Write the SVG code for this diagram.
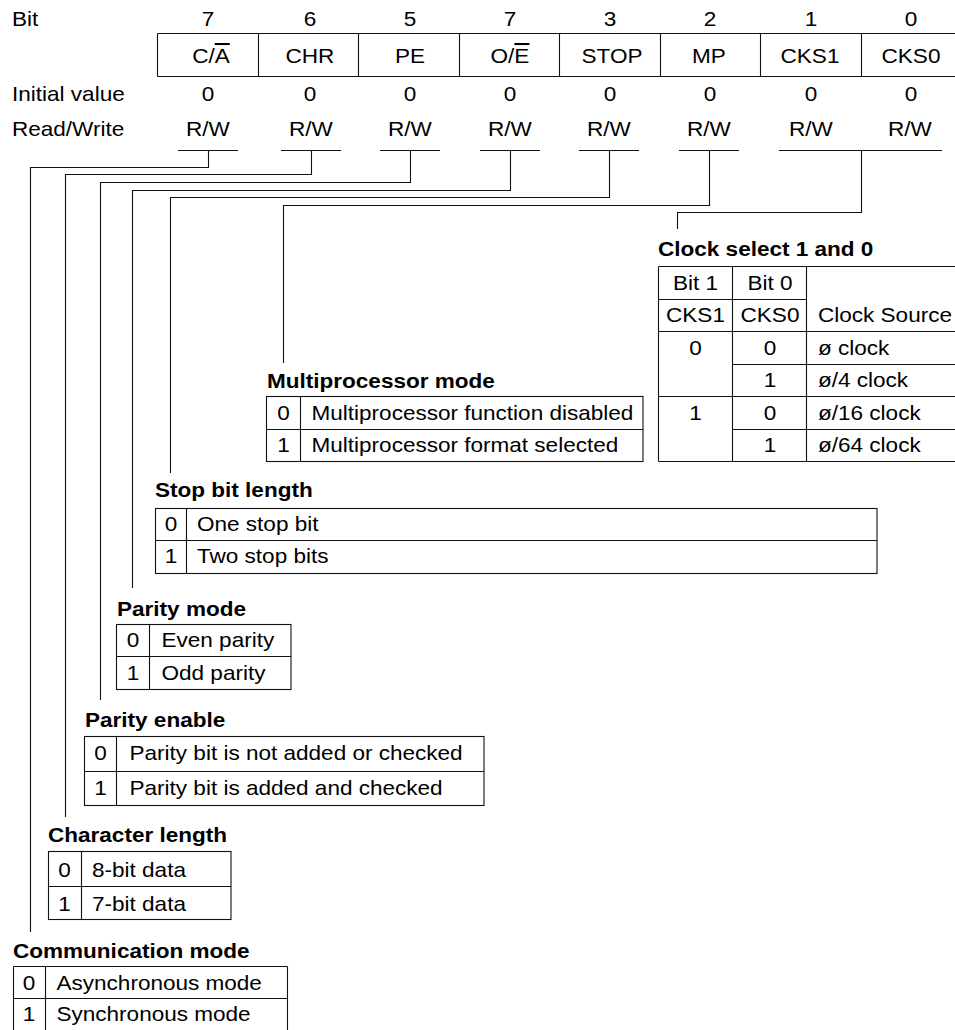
<svg xmlns="http://www.w3.org/2000/svg" width="955" height="1030" viewBox="0 0 955 1030">
<style>
text { font-family: "Liberation Sans", Arial, Helvetica, sans-serif; font-size: 20.5px; fill: #000; transform-box: fill-box; transform: scaleX(1.1); }
.l { transform-origin: 0% 50%; }
.c { text-anchor: middle; transform-origin: 50% 50%; }
.t { font-weight: bold; }
.ln { stroke: #111; stroke-width: 1.1; fill: none; }
.ov { text-decoration: overline; }
</style>
<rect width="955" height="1030" fill="#fff"/>

<g id="register">
  <text class="l" x="12" y="26">Bit</text>
  <text class="c" x="208" y="26">7</text>
  <text class="c" x="310" y="26">6</text>
  <text class="c" x="410" y="26">5</text>
  <text class="c" x="510" y="26">7</text>
  <text class="c" x="610" y="26">3</text>
  <text class="c" x="710" y="26">2</text>
  <text class="c" x="811" y="26">1</text>
  <text class="c" x="911" y="26">0</text>
  <path class="ln" d="M157.5,33.5 H970 M157.5,76.5 H970 M157.5,33.5 V76.5 M258.5,33.5 V76.5 M358.5,33.5 V76.5 M459.5,33.5 V76.5 M559.5,33.5 V76.5 M660.5,33.5 V76.5 M760.5,33.5 V76.5 M861.5,33.5 V76.5"/>
  <text class="c" x="211" y="63">C/<tspan class="ov">A</tspan></text>
  <text class="c" x="310" y="63">CHR</text>
  <text class="c" x="410" y="63">PE</text>
  <text class="c" x="510" y="63">O/<tspan class="ov">E</tspan></text>
  <text class="c" x="612" y="63">STOP</text>
  <text class="c" x="709" y="63">MP</text>
  <text class="c" x="810" y="63">CKS1</text>
  <text class="c" x="911" y="63">CKS0</text>
  <text class="l" x="12" y="101.5">Initial value</text>
  <text class="c" x="208" y="101.5">0</text>
  <text class="c" x="310" y="101.5">0</text>
  <text class="c" x="410" y="101.5">0</text>
  <text class="c" x="510" y="101.5">0</text>
  <text class="c" x="610" y="101.5">0</text>
  <text class="c" x="710" y="101.5">0</text>
  <text class="c" x="811" y="101.5">0</text>
  <text class="c" x="911" y="101.5">0</text>
  <text class="l" x="12" y="136.5">Read/Write</text>
  <text class="c" x="208" y="136.5">R/W</text>
  <text class="c" x="311" y="136.5">R/W</text>
  <text class="c" x="410" y="136.5">R/W</text>
  <text class="c" x="510" y="136.5">R/W</text>
  <text class="c" x="609" y="136.5">R/W</text>
  <text class="c" x="709" y="136.5">R/W</text>
  <text class="c" x="811" y="136.5">R/W</text>
  <text class="c" x="910" y="136.5">R/W</text>
</g>

<g id="connectors" class="ln">
  <path d="M178,150.5 H238 M208.5,150.5 V167.5 H30.5 V932"/>
  <path d="M281,150.5 H341 M311.5,150.5 V174.5 H65.5 V817"/>
  <path d="M380,150.5 H440 M410.5,150.5 V182.5 H100.5 V700"/>
  <path d="M480,150.5 H540 M510.5,150.5 V190.5 H132.5 V588"/>
  <path d="M579,150.5 H639 M609.5,150.5 V197.5 H170.5 V473"/>
  <path d="M679,150.5 H739 M709.5,150.5 V205.5 H283.5 V363"/>
  <path d="M779,150.5 H942 M861.5,150.5 V212.5 H677.5 V229"/>
</g>

<g id="clock-select">
  <text class="l t" x="658" y="256">Clock select 1 and 0</text>
  <path class="ln" d="M658.5,266.5 H970 M658.5,461.5 H970 M658.5,266.5 V461.5 M732.5,266.5 V461.5 M806.5,266.5 V461.5 M658.5,299.5 H806.5 M658.5,331.5 H970 M732.5,364.5 H970 M658.5,396.5 H970 M732.5,429.5 H970"/>
  <text class="c" x="695.5" y="290">Bit 1</text>
  <text class="c" x="770" y="290">Bit 0</text>
  <text class="c" x="695.5" y="322.5">CKS1</text>
  <text class="c" x="770" y="322.5">CKS0</text>
  <text class="l" x="818" y="322.5">Clock Source</text>
  <text class="c" x="695.5" y="355">0</text>
  <text class="c" x="770" y="355">0</text>
  <text class="l" x="818" y="355">ø clock</text>
  <text class="c" x="770" y="387.5">1</text>
  <text class="l" x="818" y="387.5">ø/4 clock</text>
  <text class="c" x="695.5" y="420">1</text>
  <text class="c" x="770" y="420">0</text>
  <text class="l" x="818" y="420">ø/16 clock</text>
  <text class="c" x="770" y="452.5">1</text>
  <text class="l" x="818" y="452.5">ø/64 clock</text>
</g>

<g id="multiprocessor-mode">
  <text class="l t" x="267" y="388">Multiprocessor mode</text>
  <rect class="ln" x="266.5" y="396.5" width="376.5" height="65"/>
  <path class="ln" d="M300.5,396.5 V461.5 M266.5,429.5 H643"/>
  <text class="c" x="283.5" y="420">0</text>
  <text class="l" x="311.5" y="420">Multiprocessor function disabled</text>
  <text class="c" x="283.5" y="452.5">1</text>
  <text class="l" x="311.5" y="452.5">Multiprocessor format selected</text>
</g>

<g id="stop-bit-length">
  <text class="l t" x="155" y="497.5">Stop bit length</text>
  <rect class="ln" x="155.5" y="508.5" width="721.5" height="65"/>
  <path class="ln" d="M186.5,508.5 V573.5 M155.5,540.5 H877"/>
  <text class="c" x="171" y="531">0</text>
  <text class="l" x="197" y="531">One stop bit</text>
  <text class="c" x="171" y="563.5">1</text>
  <text class="l" x="197" y="563.5">Two stop bits</text>
</g>

<g id="parity-mode">
  <text class="l t" x="117" y="616">Parity mode</text>
  <rect class="ln" x="116.5" y="624.5" width="174.5" height="65"/>
  <path class="ln" d="M149.5,624.5 V689.5 M116.5,656.5 H291"/>
  <text class="c" x="133" y="647.5">0</text>
  <text class="l" x="161.5" y="647.5">Even parity</text>
  <text class="c" x="133" y="680">1</text>
  <text class="l" x="161.5" y="680">Odd parity</text>
</g>

<g id="parity-enable">
  <text class="l t" x="85" y="727">Parity enable</text>
  <rect class="ln" x="84.5" y="736.5" width="399.5" height="69"/>
  <path class="ln" d="M116.5,736.5 V805.5 M84.5,771.5 H484"/>
  <text class="c" x="100.5" y="760.5">0</text>
  <text class="l" x="129.5" y="760.5">Parity bit is not added or checked</text>
  <text class="c" x="100.5" y="795.5">1</text>
  <text class="l" x="129.5" y="795.5">Parity bit is added and checked</text>
</g>

<g id="character-length">
  <text class="l t" x="48" y="842">Character length</text>
  <rect class="ln" x="48.5" y="851.5" width="182.5" height="68"/>
  <path class="ln" d="M81.5,851.5 V919.5 M48.5,886.5 H231"/>
  <text class="c" x="64.5" y="877">0</text>
  <text class="l" x="92" y="877">8-bit data</text>
  <text class="c" x="64.5" y="911">1</text>
  <text class="l" x="92" y="911">7-bit data</text>
</g>

<g id="communication-mode">
  <text class="l t" x="13" y="958">Communication mode</text>
  <path class="ln" d="M13.5,966.5 H287.5 M13.5,966.5 V1031 M45.5,966.5 V1031 M287.5,966.5 V1031 M13.5,998.5 H287.5"/>
  <text class="c" x="29" y="990.5">0</text>
  <text class="l" x="56.5" y="990.5">Asynchronous mode</text>
  <text class="c" x="29" y="1021.5">1</text>
  <text class="l" x="56.5" y="1021.5">Synchronous mode</text>
</g>
</svg>
